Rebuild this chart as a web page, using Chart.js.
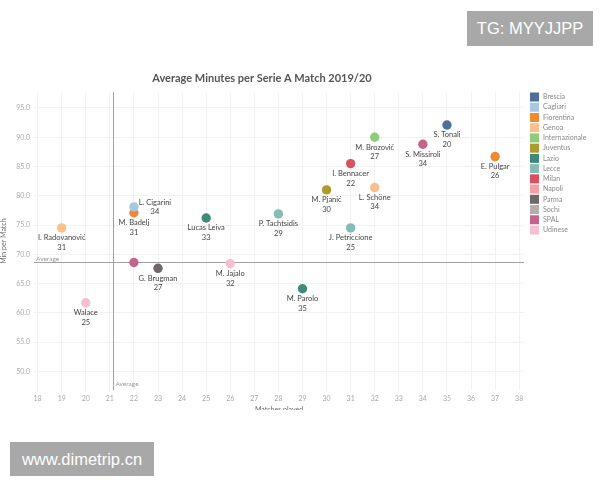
<!DOCTYPE html>
<html>
<head>
<meta charset="utf-8">
<script src="https://cdn.jsdelivr.net/npm/chart.js@4/dist/chart.umd.min.js"></script>
<style>
  body { margin: 0; background: #fff; width: 600px; height: 480px; position: relative; overflow: hidden; }
  #wrap { position: absolute; left: 0; top: 0; width: 600px; height: 410px; overflow: hidden; }
  .mark { position: absolute; background: #a8a8a8; color: #fff; font-family: "Liberation Sans", Arial, sans-serif;
          font-size: 16.5px; text-align: center; }
</style>
</head>
<body>
<div id="wrap"><canvas id="scatter" width="600" height="420"></canvas></div>
<div class="mark" style="left:467px; top:11px; width:126px; height:35px; line-height:35px;">TG: MYYJJPP</div>
<div class="mark" style="left:10px; top:442px; width:144px; height:34px; line-height:34px;">www.dimetrip.cn</div>
<script>
// ------------------ Data ------------------
const xTicks = [18, 19, 20, 21, 22, 23, 24, 25, 26, 27, 28, 29, 30, 31, 32, 33, 34, 35, 36, 37, 38];
const yTicks = [50, 55, 60, 65, 70, 75, 80, 85, 90, 95];

const teams = ['Brescia', 'Cagliari', 'Fiorentina', 'Genoa', 'Internazionale', 'Juventus', 'Lazio',
               'Lecce', 'Milan', 'Napoli', 'Parma', 'Sochi', 'SPAL', 'Udinese'];
const teamColors = ['#4e6f9a', '#a6c8e4', '#ef8a2f', '#f9c08a', '#8ccc7c', '#b09a2d', '#3f8a78',
                    '#86bcb6', '#d9505e', '#f2a0a6', '#6e6866', '#b5aeaa', '#c5648a', '#f4c0d2'];

const players = ['I. Radovanović', 'L. Cigarini', 'M. Badelj', 'Lucas Leiva', 'P. Tachtsidis', 'M. Brozović',
                 'S. Tonali', 'S. Missiroli', 'E. Pulgar', 'I. Bennacer', 'M. Pjanić', 'L. Schöne',
                 'J. Petriccione', 'M. Parolo', '', 'G. Brugman', 'M. Jajalo', 'Walace'];
const playerTeams = ['Genoa', 'Cagliari', 'Fiorentina', 'Lazio', 'Lecce', 'Internazionale',
                     'Brescia', 'SPAL', 'Fiorentina', 'Milan', 'Juventus', 'Genoa',
                     'Lecce', 'Lazio', 'SPAL', 'Parma', 'Udinese', 'Udinese'];
const matches = [19, 22, 22, 25, 28, 32, 35, 34, 37, 31, 30, 32, 31, 29, 22, 23, 26, 20];
const minutes = [74.5, 78.1, 77.1, 76.2, 76.9, 90.0, 92.1, 88.8, 86.7, 85.5, 81.0, 81.4, 74.5, 64.1, 68.6, 67.6, 68.4, 61.7];
const ages = ['31', '34', '31', '33', '29', '27', '20', '34', '26', '22', '30', '34', '25', '35', '', '27', '32', '25'];

const avgMatches = 21.15;
const avgMinutes = 68.6;

// labels drawn to the right of the dot instead of below
const sideLabels = ['L. Cigarini'];

// one dataset per team
const datasets = teams.map((team, t) => {
    const pts = [];
    players.forEach((p, i) => {
        if (playerTeams[i] === team) {
            pts.push({ x: matches[i], y: minutes[i], name: p, age: ages[i] });
        }
    });
    return {
        label: team,
        data: pts,
        backgroundColor: teamColors[t],
        borderWidth: 0,
        pointRadius: 4.7,
        pointHoverRadius: 4.7
    };
});

// ------------------ Plugins ------------------
const averageLines = {
    id: 'averageLines',
    beforeDatasetsDraw(chart) {
        const { ctx, chartArea, scales } = chart;
        const ax = scales.x.getPixelForValue(avgMatches);
        const ay = scales.y.getPixelForValue(avgMinutes);
        ctx.save();
        ctx.strokeStyle = '#a0a0a0';
        ctx.lineWidth = 1;
        ctx.beginPath();
        ctx.moveTo(chartArea.left, Math.round(ay) + 0.5);
        ctx.lineTo(chartArea.right, Math.round(ay) + 0.5);
        ctx.moveTo(Math.round(ax) + 0.5, chartArea.top);
        ctx.lineTo(Math.round(ax) + 0.5, chartArea.bottom);
        ctx.stroke();

        ctx.font = '6.5px Lato';
        ctx.fillStyle = '#999';
        ctx.textAlign = 'left';
        ctx.textBaseline = 'middle';
        ctx.fillText('Average', chartArea.left + 2, ay - 4);
        ctx.fillText('Average', ax + 2, chartArea.bottom - 6);
        ctx.restore();
    }
};

const pointLabels = {
    id: 'pointLabels',
    afterDatasetsDraw(chart) {
        const { ctx } = chart;
        ctx.save();
        ctx.font = '7.5px Lato';
        ctx.fillStyle = '#444';
        ctx.textBaseline = 'middle';
        ctx.textAlign = 'center';
        chart.data.datasets.forEach((ds, d) => {
            chart.getDatasetMeta(d).data.forEach((el, i) => {
                const pt = ds.data[i];
                if (!pt.name) return;
                if (sideLabels.includes(pt.name)) {
                    ctx.fillText(pt.name, el.x + 21, el.y - 4);
                    ctx.fillText(pt.age, el.x + 21, el.y + 5);
                } else {
                    ctx.fillText(pt.name, el.x, el.y + 10);
                    ctx.fillText(pt.age, el.x, el.y + 19.5);
                }
            });
        });
        ctx.restore();
    }
};

const teamLegend = {
    id: 'teamLegend',
    afterDraw(chart) {
        const { ctx } = chart;
        ctx.save();
        ctx.font = '7px Lato';
        ctx.textAlign = 'left';
        ctx.textBaseline = 'middle';
        chart.data.datasets.forEach((ds, i) => {
            const y = 97 + i * 10.23;
            ctx.fillStyle = ds.backgroundColor;
            ctx.fillRect(530, y - 4.5, 9, 9);
            ctx.fillStyle = '#888';
            ctx.fillText(ds.label, 543, y);
        });
        ctx.restore();
    }
};

// ------------------ Chart ------------------
const tickFont = { family: 'Lato', size: 7 };

new Chart(document.getElementById('scatter'), {
    type: 'scatter',
    data: { datasets: datasets },
    options: {
        responsive: false,
        animation: false,
        layout: { padding: { top: 0, right: 76, left: 0, bottom: 0 } },
        plugins: {
            legend: { display: false },
            tooltip: { enabled: false },
            title: {
                display: true,
                text: 'Average Minutes per Serie A Match 2019/20',
                color: '#555',
                font: { family: 'Lato', size: 11, weight: 'bold' },
                padding: { top: 72, bottom: 7 }
            }
        },
        scales: {
            x: {
                type: 'linear',
                min: 17.85,
                max: 38.2,
                afterBuildTicks: s => { s.ticks = xTicks.map(v => ({ value: v })); },
                afterFit: s => { s.height = 30; },
                grid: { color: '#f2f2f2', drawTicks: false },
                border: { display: false },
                ticks: { color: '#aaa', font: tickFont, padding: 5 },
                title: { display: true, text: 'Matches played', color: '#666', font: { family: 'Lato', size: 7 }, padding: { top: 2, bottom: 6 } }
            },
            y: {
                min: 46.8,
                max: 97.7,
                afterBuildTicks: s => { s.ticks = yTicks.map(v => ({ value: v })); },
                afterFit: s => { s.width = 34; },
                grid: { color: '#f2f2f2', drawTicks: false },
                border: { display: false },
                ticks: { color: '#aaa', font: tickFont, padding: 4, callback: v => v.toFixed(1) },
                title: { display: true, text: 'Min per Match', color: '#666', font: { family: 'Lato', size: 7 }, padding: 0 }
            }
        }
    },
    plugins: [averageLines, pointLabels, teamLegend]
});
</script>
</body>
</html>
